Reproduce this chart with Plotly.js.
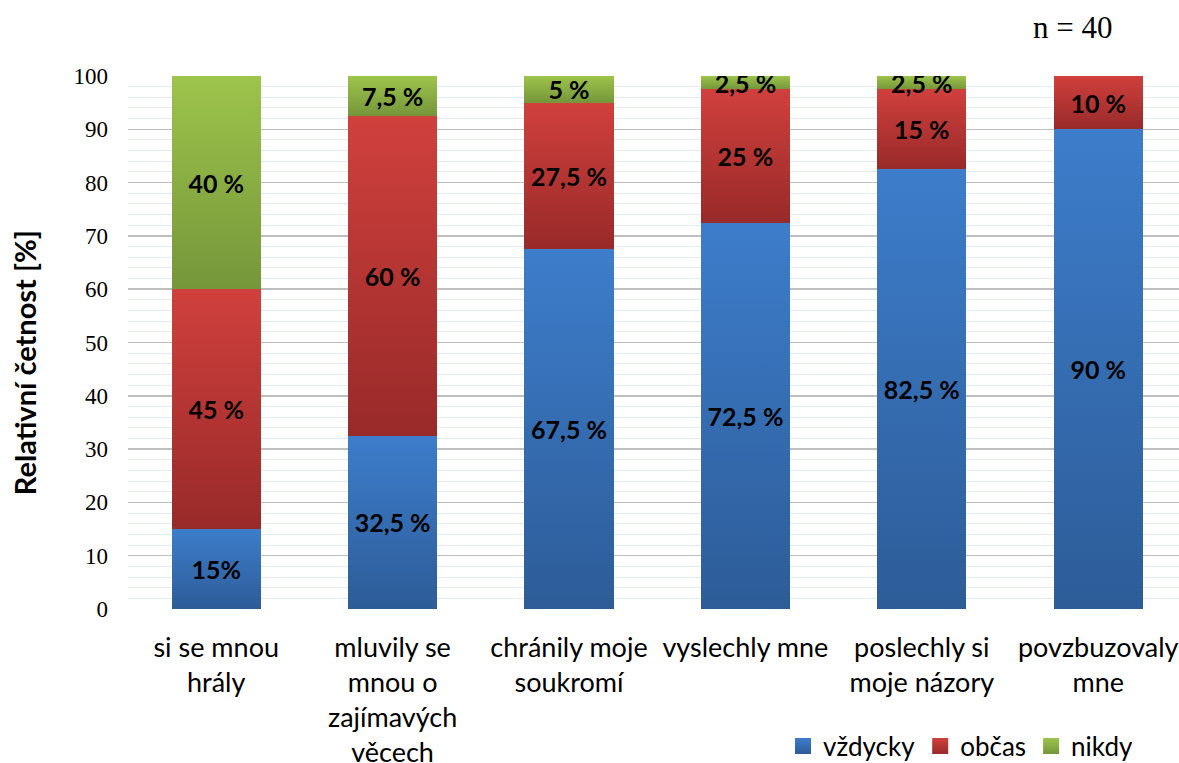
<!DOCTYPE html>
<html>
<head>
<meta charset="utf-8">
<script src="https://cdn.plot.ly/plotly-3.0.1.min.js"></script>
<style>
  html, body { margin: 0; padding: 0; background: #fff; }
  #chart { width: 1179px; height: 763px; }
</style>
</head>
<body>
<div id="chart"></div>
<script>
// Survey items (category axis)
const categories = [
  'si se mnou<br>hrály',
  'mluvily se<br>mnou o<br>zajímavých<br>věcech',
  'chránily moje<br>soukromí',
  'vyslechly mne',
  'poslechly si<br>moje názory',
  'povzbuzovaly<br>mne'
];

// Relative frequencies in percent
const vzdycky = [15, 32.5, 67.5, 72.5, 82.5, 90];
const obcas   = [45, 60, 27.5, 25, 15, 10];
const nikdy   = [40, 7.5, 5, 2.5, 2.5, 0];

// Segment labels
const vzdyckyLabels = ['15%', '32,5 %', '67,5 %', '72,5 %', '82,5 %', '90 %'];
const obcasLabels   = ['45 %', '60 %', '27,5 %', '25 %', '15 %', '10 %'];
const nikdyLabels   = ['40 %', '7,5 %', '5 %', '2,5 %', '2,5 %', ''];

const seriesNames = ['vždycky', 'občas', 'nikdy'];
const yTicks = [0, 10, 20, 30, 40, 50, 60, 70, 80, 90, 100];

// top / bottom shades of each series
const shades = [
  ['#3D7DCB', '#2D5C98'],
  ['#D0403D', '#982A29'],
  ['#9DC44B', '#75963A']
];

const sans = 'Lato, Calibri, sans-serif';
const serif = 'Liberation Serif, Times New Roman, serif';
const labelFont = { family: sans, size: 25, color: '#000' };
const xIdx = categories.map((_, i) => i);

function barTrace(name, values, labels, k) {
  return {
    type: 'bar',
    name: name,
    x: xIdx,
    y: values,
    text: labels,
    texttemplate: '<b>%{text}</b>',
    textposition: 'inside',
    insidetextanchor: 'middle',
    constraintext: 'none',
    textfont: labelFont,
    hoverinfo: 'skip',
    marker: { color: shades[k][0], line: { width: 0 } }
  };
}

const data = [
  barTrace(seriesNames[0], vzdycky, vzdyckyLabels, 0),
  barTrace(seriesNames[1], obcas, obcasLabels, 1),
  barTrace(seriesNames[2], nikdy, nikdyLabels, 2)
];

const layout = {
  width: 1179,
  height: 763,
  margin: { l: 128, r: 0, t: 76, b: 154, autoexpand: false },
  paper_bgcolor: '#fff',
  plot_bgcolor: '#fff',
  barmode: 'stack',
  bargap: 0.495,
  uniformtext: { mode: 'show', minsize: 25 },
  showlegend: true,
  legend: {
    orientation: 'h',
    x: 0.961, xanchor: 'right',
    y: -0.257, yanchor: 'middle',
    font: { family: sans, size: 26, color: '#000' },
    itemwidth: 30,
    tracegroupgap: 0,
    traceorder: 'normal'
  },
  xaxis: {
    type: 'linear',
    automargin: false,
    range: [-0.5, 5.458],
    tickmode: 'array',
    tickvals: xIdx,
    ticktext: categories,
    ticks: '',
    ticklabelstandoff: 20,
    showgrid: false,
    zeroline: false,
    showline: false,
    tickfont: { family: sans, size: 27, color: '#000' }
  },
  yaxis: {
    automargin: false,
    range: [0, 100],
    tickmode: 'array',
    tickvals: yTicks,
    ticks: '',
    ticklabelstandoff: 19,
    showline: false,
    zeroline: false,
    showgrid: true,
    gridcolor: '#BFBFBF',
    gridwidth: 1.5,
    minor: { dtick: 2, showgrid: true, gridcolor: '#E4EAF1', gridwidth: 1 },
    tickfont: { family: serif, size: 23, color: '#000' }
  },
  annotations: [
    {
      // vertical axis title
      xref: 'paper', yref: 'paper',
      x: -0.099, y: 0.463,
      xanchor: 'center', yanchor: 'middle',
      textangle: -90,
      text: '<b>Relativní četnost [%]</b>',
      showarrow: false,
      font: { family: sans, size: 29, color: '#000' }
    },
    {
      xref: 'paper', yref: 'paper',
      x: 0.899, y: 1.091,
      xanchor: 'center', yanchor: 'middle',
      text: 'n = 40',
      showarrow: false,
      font: { family: serif, size: 31, color: '#000' }
    }
  ]
};

Plotly.newPlot('chart', data, layout, { displayModeBar: false, staticPlot: true }).then(gd => {
  // vertical gradient fill per series (lighter on top, darker at the bottom)
  const svg = gd.querySelector('.main-svg');
  const ns = 'http://www.w3.org/2000/svg';
  let defs = svg.querySelector('defs');
  if (!defs) { defs = document.createElementNS(ns, 'defs'); svg.insertBefore(defs, svg.firstChild); }
  shades.forEach((s, k) => {
    const g = document.createElementNS(ns, 'linearGradient');
    g.setAttribute('id', 'barShade' + k);
    g.setAttribute('x1', '0'); g.setAttribute('y1', '0');
    g.setAttribute('x2', '0'); g.setAttribute('y2', '1');
    [[0, s[0]], [1, s[1]]].forEach(([o, c]) => {
      const st = document.createElementNS(ns, 'stop');
      st.setAttribute('offset', o);
      st.setAttribute('stop-color', c);
      g.appendChild(st);
    });
    defs.appendChild(g);
  });
  gd.querySelectorAll('.barlayer .trace.bars').forEach((tr, k) => {
    tr.querySelectorAll('.point path').forEach(p => { p.style.fill = 'url(#barShade' + k + ')'; });
  });
  // larger square legend swatches
  gd.querySelectorAll('.legend .traces').forEach((tr, k) => {
    tr.querySelectorAll('.legendpoints path').forEach(p => {
      p.setAttribute('d', 'M8,8H-8V-8H8Z');
      p.style.fill = 'url(#barShade' + k + ')';
    });
  });
});
</script>
</body>
</html>
